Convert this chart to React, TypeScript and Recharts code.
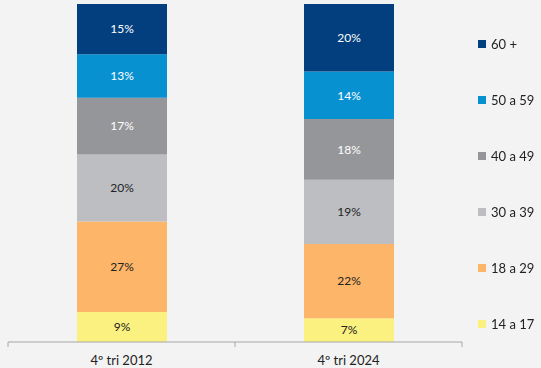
import React from "react";
import { BarChart, Bar, XAxis, YAxis, Legend, LabelList } from "recharts";

// faixas etárias, de baixo para cima na pilha
const categories = ["4º tri 2012", "4º tri 2024"];
const seriesNames = ["14 a 17", "18 a 29", "30 a 39", "40 a 49", "50 a 59", "60 +"];
const colors = ["#fbf180", "#fcb569", "#bdbec2", "#95969a", "#0891d1", "#033f7e"];
const labelColors = ["#222", "#222", "#222", "#fff", "#fff", "#fff"];

const v14a17 = [9, 7];
const v18a29 = [27, 22];
const v30a39 = [20, 19];
const v40a49 = [17, 18];
const v50a59 = [13, 14];
const v60mais = [15, 20];

const seriesValues = [v14a17, v18a29, v30a39, v40a49, v50a59, v60mais];

const data = categories.map((name, i) => {
  const row: Record<string, string | number> = { name };
  seriesNames.forEach((s, j) => {
    row[s] = seriesValues[j][i];
  });
  return row;
});

const FONT = "Lato, 'Noto Sans', sans-serif";

const AxisTick = (props: any) => {
  const { x, y, payload, index } = props;
  const half = payload && payload.offset ? payload.offset : 113.5;
  const isLast = index === categories.length - 1;
  return (
    <g>
      <line x1={x - half} y1={y - 8} x2={x - half} y2={y - 3} stroke="#a6a6a6" />
      {isLast && <line x1={x + half} y1={y - 8} x2={x + half} y2={y - 3} stroke="#a6a6a6" />}
      <text x={x} y={y + 15} textAnchor="middle" fill="#222" fontSize={13} fontFamily={FONT}>
        {payload.value}
      </text>
    </g>
  );
};

const LegendContent = () => (
  <div style={{ fontFamily: FONT, fontSize: 13, color: "#222" }}>
    {seriesNames
      .slice()
      .reverse()
      .map((s) => {
        const c = colors[seriesNames.indexOf(s)];
        return (
          <div key={s} style={{ height: 56, display: "flex", alignItems: "flex-start" }}>
            <div style={{ height: 16, display: "flex", alignItems: "center" }}>
              <span style={{ display: "inline-block", width: 8, height: 8, background: c, marginRight: 5 }} />
              <span style={{ lineHeight: "16px", whiteSpace: "nowrap" }}>{s}</span>
            </div>
          </div>
        );
      })}
  </div>
);

export default function App() {
  return (
    <div style={{ position: "fixed", left: 0, top: 0, width: 541, height: 368, background: "#f3f3f3" }}>
      <BarChart
        width={541}
        height={368}
        data={data}
        stackOffset="expand"
        barSize={90}
        margin={{ top: 4, right: 79, left: 8, bottom: 0 }}
      >
        <XAxis
          dataKey="name"
          height={26}
          axisLine={{ stroke: "#a6a6a6" }}
          tickLine={false}
          tick={<AxisTick />}
          interval={0}
        />
        <YAxis hide domain={[0, 1]} />
        <Legend
          layout="horizontal"
          verticalAlign="middle"
          align="center"
          wrapperStyle={{ left: 478, top: 36, width: 63 }}
          content={<LegendContent />}
        />
        {seriesNames.map((s, j) => (
          <Bar key={s} dataKey={s} stackId="a" fill={colors[j]} isAnimationActive={false}>
            <LabelList
              dataKey={s}
              position="center"
              fill={labelColors[j]}
              fontSize={12}
              fontFamily={FONT}
              formatter={(v: any) => `${v}%`}
            />
          </Bar>
        ))}
      </BarChart>
    </div>
  );
}
